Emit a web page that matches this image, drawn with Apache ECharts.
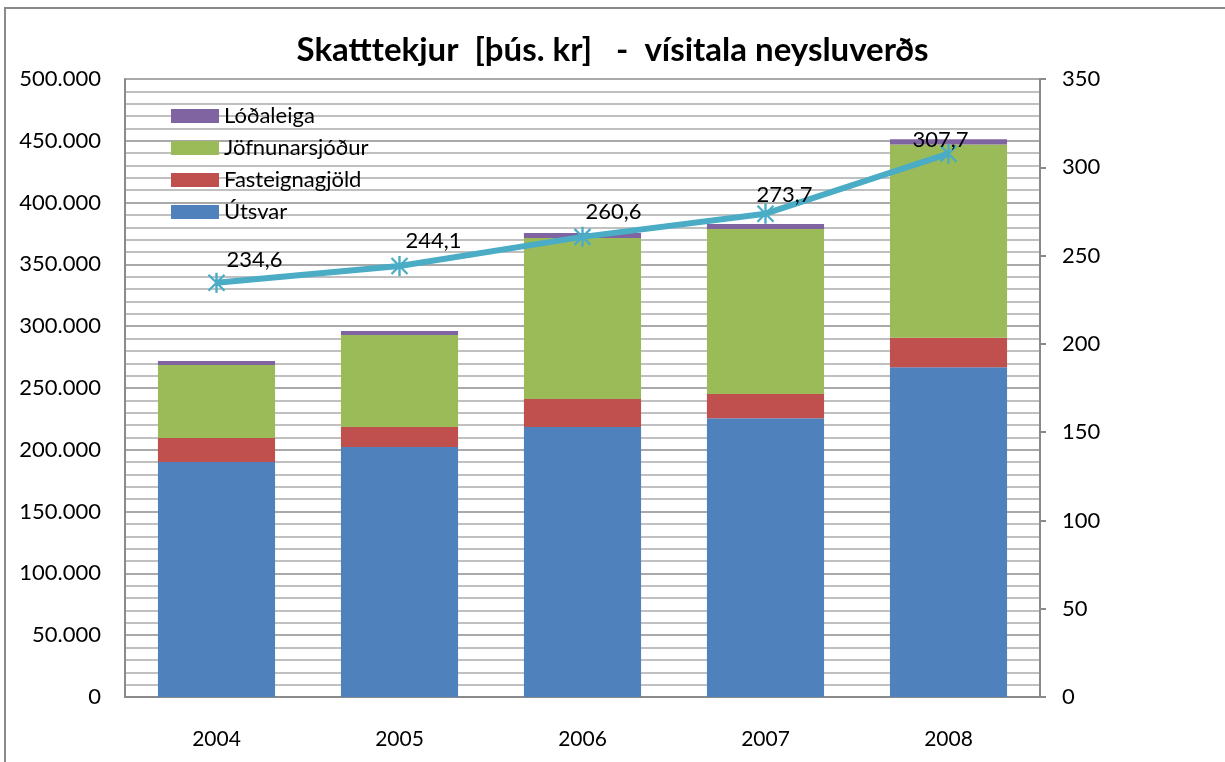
<!DOCTYPE html>
<html>
<head>
<meta charset="utf-8">
<script src="https://cdn.jsdelivr.net/npm/echarts@6/dist/echarts.min.js"></script>
<style>
html,body{margin:0;padding:0;background:#fff;}
#frame{position:absolute;left:4px;top:7px;width:1240px;height:780px;border-left:2px solid #8a8a8a;border-top:2px solid #8a8a8a;}
#chart{position:absolute;left:0;top:0;width:1225px;height:762px;}
</style>
</head>
<body>
<div id="frame"></div>
<div id="chart"></div>
<script>
const years = ['2004','2005','2006','2007','2008'];
const utsvar = [190100, 202300, 218500, 225500, 266700];
const fasteignagjold = [19400, 16200, 22600, 19600, 24000];
const jofnunarsjodur = [59100, 74400, 130200, 133500, 156400];
const lodaleiga = [3200, 3200, 4100, 4100, 4100];
const visitala = [234.6, 244.1, 260.6, 273.7, 307.7];
const leftTicks = {min: 0, max: 500000, interval: 50000};
const rightTicks = {min: 0, max: 350, interval: 50};

const FONT = 'Lato, "Open Sans", sans-serif';
function fmtThousands(v){ return String(v).replace(/\B(?=(\d{3})+(?!\d))/g, '.'); }
const asterisk = 'path://M-1.2,-10L1.2,-10L1.2,10L-1.2,10Z M-8.8,-7.2L-7.2,-8.8L8.8,7.2L7.2,8.8Z M7.2,-8.8L8.8,-7.2L-7.2,8.8L-8.8,7.2Z';
// label placement (style), per point, as in the original chart
const labelShift = [[38,-23],[34,-25],[31,-25],[19,-19],[-8,-14]];

const chart = echarts.init(document.getElementById('chart'), null, {renderer:'canvas'});
const barCommon = {type:'bar', stack:'total', barWidth:'64%', yAxisIndex:0};
chart.setOption({
  animation:false,
  backgroundColor:'transparent',
  textStyle:{fontFamily:FONT},
  title:{text:'Skatttekjur  [þús. kr]   -  vísitala neysluverðs', left:'center', top:29,
    textStyle:{fontFamily:FONT, fontSize:33, fontWeight:'bold', color:'#000'}},
  legend:{orient:'vertical', left:166, top:100, itemWidth:48, itemHeight:14, itemGap:10,
    icon:'rect',
    data:['Lóðaleiga','Jöfnunarsjóður','Fasteignagjöld','Útsvar'],
    textStyle:{fontFamily:FONT, fontSize:22, color:'#000', lineHeight:22}},
  grid:{left:125, right:185, top:79, bottom:65},
  xAxis:{type:'category', data:years,
    axisLine:{lineStyle:{color:'#8a8a8a', width:2}},
    axisTick:{show:false},
    axisLabel:{fontFamily:FONT, fontSize:21, color:'#000', margin:32}},
  yAxis:[
    {type:'value', min:leftTicks.min, max:leftTicks.max, interval:leftTicks.interval,
     axisLine:{show:true, lineStyle:{color:'#8a8a8a', width:2}},
     axisTick:{show:false},
     axisLabel:{fontFamily:FONT, fontSize:22, color:'#000', margin:24, formatter:fmtThousands},
     splitLine:{show:true, lineStyle:{color:'#8c8c8c', width:1.5}},
     minorTick:{show:false, splitNumber:5},
     minorSplitLine:{show:true, lineStyle:{color:'#c0c0c0', width:2}}},
    {type:'value', min:rightTicks.min, max:rightTicks.max, interval:rightTicks.interval, position:'right',
     axisLine:{show:true, lineStyle:{color:'#8a8a8a', width:2}},
     axisTick:{show:true, inside:false, length:6, lineStyle:{color:'#8a8a8a', width:2}},
     axisLabel:{fontFamily:FONT, fontSize:22, color:'#000', margin:22},
     splitLine:{show:false}}
  ],
  series:[
    Object.assign({name:'Útsvar', data:utsvar, itemStyle:{color:'#4F81BD'}}, barCommon),
    Object.assign({name:'Fasteignagjöld', data:fasteignagjold, itemStyle:{color:'#C0504D'}}, barCommon),
    Object.assign({name:'Jöfnunarsjóður', data:jofnunarsjodur, itemStyle:{color:'#9BBB59'}}, barCommon),
    Object.assign({name:'Lóðaleiga', data:lodaleiga, itemStyle:{color:'#8064A2'}}, barCommon),
    {name:'Vísitala neysluverðs', type:'line', yAxisIndex:1, z:10,
     data: visitala.map(function(v,i){ return {value:v, label:{offset:labelShift[i]}}; }),
     symbol:asterisk, symbolSize:20, symbolKeepAspect:true,
     lineStyle:{color:'#4BACC6', width:6},
     itemStyle:{color:'#4BACC6'},
     label:{show:true, position:'inside', fontFamily:FONT, fontSize:22, color:'#000',
       formatter:function(p){return String(p.value.toFixed(1)).replace('.', ',');}}}
  ]
});
</script>
</body>
</html>
